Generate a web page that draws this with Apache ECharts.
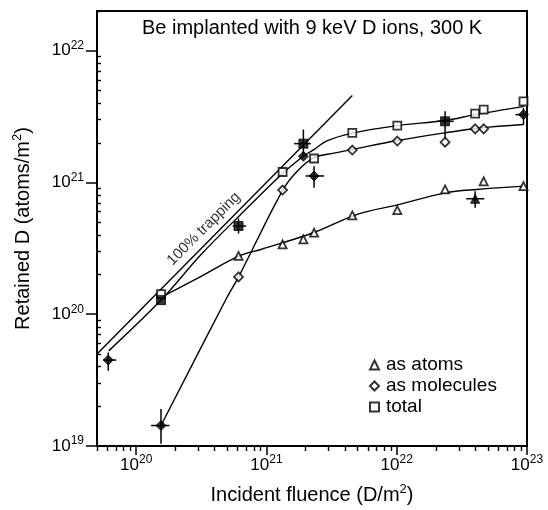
<!DOCTYPE html>
<html>
<head>
<meta charset="utf-8">
<script src="https://cdn.jsdelivr.net/npm/echarts@6/dist/echarts.min.js"></script>
<style>
  html, body { margin: 0; padding: 0; background: #fff; }
  #chart { width: 548px; height: 510px; }
</style>
</head>
<body>
<div id="chart"></div>
<script>
// fluence / retained D (D/m^2)
const atomsX = [6.1e20, 1.33e21, 1.92e21, 2.32e21, 4.56e21, 1.01e22, 2.35e22, 4.65e22, 9.4e22];
const atomsY = [2.77e20, 3.39e20, 3.70e20, 4.16e20, 5.62e20, 6.17e20, 8.85e20, 1.02e21, 9.38e20];
const molX = [6.1e20, 1.33e21, 4.56e21, 1.01e22, 2.35e22, 4.0e22, 4.65e22];
const molY = [1.92e20, 8.75e20, 1.76e21, 2.06e21, 2.02e21, 2.55e21, 2.55e21];
const totX = [1.55e20, 1.33e21, 2.32e21, 4.56e21, 1.01e22, 4.0e22, 4.65e22, 9.4e22];
const totY = [1.42e20, 1.20e21, 1.52e21, 2.38e21, 2.70e21, 3.33e21, 3.57e21, 4.13e21];

// filled symbols
const fillSqX = [1.55e20, 6.1e20, 1.92e21, 2.35e22];
const fillSqY = [1.28e20, 4.67e20, 1.97e21, 2.91e21];
const fillDiX = [6.1e19, 1.55e20, 1.92e21, 2.32e21, 9.4e22];
const fillDiY = [4.49e19, 1.43e19, 1.58e21, 1.12e21, 3.27e21];
const fillTriX = [4.0e22];
const fillTriY = [7.52e20];

// error bars: [x, y, xLow, xHigh, yLow, yHigh]
const errBars = [
  [6.1e19, 4.49e19, 5.56e19, 7.03e19, 3.72e19, 5.13e19],
  [1.55e20, 1.43e19, 1.30e20, 1.80e20, 1.04e19, 1.91e19],
  [6.1e20, 4.67e20, 5.50e20, 6.97e20, 4.09e20, 5.32e20],
  [1.92e21, 1.97e21, 1.63e21, 2.19e21, 1.58e21, 2.52e21],
  [2.32e21, 1.12e21, 2.00e21, 2.77e21, 9.12e20, 1.33e21],
  [2.35e22, 2.91e21, 2.04e22, 2.74e22, 2.12e21, 3.47e21],
  [4.0e22, 7.52e20, 3.42e22, 4.70e22, 6.43e20, 8.59e20],
  [9.4e22, 3.27e21, 8.15e22, 1.0e23, 2.75e21, 3.68e21]
];

// fitted curves
const trapX = [5e19, 4.56e21];
const trapY = [5e19, 4.56e21];
const totFitX = [6.15e19, 1.55e20, 3.16e20, 6.31e20, 1.33e21, 1.92e21, 2.32e21, 2.88e21, 4.56e21, 1.01e22, 2.34e22, 3.98e22, 9.55e22];
const totFitY = [5.27e19, 1.28e20, 2.85e20, 5.69e20, 1.17e21, 1.58e21, 1.78e21, 2.06e21, 2.37e21, 2.70e21, 2.95e21, 3.27e21, 3.78e21];
const molFitX = [1.55e20, 4.89e20, 6.11e20, 1.33e21, 1.73e21, 2.32e21, 3.30e21, 4.56e21, 1.01e22, 2.33e22, 4.39e22, 9.4e22];
const molFitY = [1.43e19, 1.30e20, 1.92e20, 8.71e20, 1.22e21, 1.54e21, 1.67e21, 1.78e21, 2.08e21, 2.38e21, 2.59e21, 2.75e21];
const atFitX = [1.55e20, 3.15e20, 6.18e20, 9.06e20, 2.32e21, 4.98e21, 1.01e22, 2.37e22, 4.13e22, 9.4e22];
const atFitY = [1.34e20, 1.94e20, 2.77e20, 3.10e20, 4.17e20, 5.73e20, 6.75e20, 8.34e20, 8.85e20, 9.38e20];

const xMajor = [20, 21, 22, 23];
const yMajor = [19, 20, 21, 22];

const L = Math.log10;
const X_MIN = L(5e19), X_MAX = 23;
const Y_MIN = 19, Y_MAX = L(2e22);

function minorTicks(lo, hi) {
  const out = [];
  for (let n = Math.floor(lo); n < hi; n++) {
    for (let k = 2; k <= 9; k++) {
      const v = n + L(k);
      if (v >= lo && v <= hi) out.push(v);
    }
  }
  return out;
}

const pts = (xs, ys) => xs.map((x, i) => [L(x), L(ys[i])]);

const FONT = '"Liberation Sans", Arial, sans-serif';
const supRich = {
  b: { fontSize: 17, color: '#000', fontFamily: FONT },
  s: { fontSize: 12, color: '#000', fontFamily: FONT, padding: [0, 0, 10, 0] }
};
const powLabel = v => '{b|10}{s|' + Math.round(v) + '}';
const nameRich = {
  a: { fontSize: 20, color: '#000', fontFamily: FONT },
  s: { fontSize: 13, color: '#000', fontFamily: FONT, padding: [0, 0, 11, 0] }
};

const lineBase = { type: 'line', symbol: 'none', silent: true,
  lineStyle: { color: '#000', width: 1.4 }, z: 2 };
const open = { color: '#fff', borderColor: '#000', borderWidth: 1.8 };
const filled = { color: '#000', borderColor: '#000', borderWidth: 1 };

const chart = echarts.init(document.getElementById('chart'));

const option = {
  animation: false,
  textStyle: { fontFamily: FONT },
  title: {
    text: 'Be implanted with 9 keV D ions, 300 K',
    left: 142, top: 18, padding: 0,
    textStyle: { fontSize: 20, fontWeight: 'normal', color: '#000', fontFamily: FONT }
  },
  grid: {
    left: 97, right: 21, top: 11, bottom: 63,
    show: true, borderColor: '#000', borderWidth: 2, backgroundColor: 'transparent'
  },
  legend: {
    data: ['as atoms', 'as molecules', 'total'],
    orient: 'vertical', left: 369, top: 355, padding: 0,
    itemWidth: 9, itemHeight: 9, itemGap: 1,
    textStyle: { fontSize: 19, lineHeight: 20, color: '#000', fontFamily: FONT, padding: [0, 0, 0, 2] }
  },
  xAxis: [
    {
      type: 'value', min: X_MIN, max: X_MAX, position: 'bottom',
      axisLine: { show: true, lineStyle: { color: '#000', width: 2 } },
      axisTick: { show: true, customValues: xMajor, length: 9, lineStyle: { color: '#000', width: 1.5 } },
      axisLabel: { customValues: xMajor, formatter: powLabel, rich: supRich, margin: 8 },
      splitLine: { show: false },
      name: '{a|Incident fluence (D/m}{s|2}{a|)}',
      nameLocation: 'middle', nameGap: 37,
      nameTextStyle: { rich: nameRich }
    },
    {
      type: 'value', min: X_MIN, max: X_MAX, position: 'bottom',
      axisLine: { show: false },
      axisTick: { show: true, customValues: minorTicks(X_MIN, X_MAX), length: 5, lineStyle: { color: '#000', width: 1.4 } },
      axisLabel: { show: false },
      splitLine: { show: false }
    }
  ],
  yAxis: [
    {
      type: 'value', min: Y_MIN, max: Y_MAX, position: 'left',
      axisLine: { show: true, lineStyle: { color: '#000', width: 2 } },
      axisTick: { show: true, customValues: yMajor, length: 11, lineStyle: { color: '#000', width: 1.5 } },
      axisLabel: { customValues: yMajor, formatter: powLabel, rich: supRich, margin: 13 },
      splitLine: { show: false },
      name: '{a|Retained D (atoms/m}{s|2}{a|)}',
      nameLocation: 'middle', nameGap: 62,
      nameTextStyle: { rich: nameRich }
    },
    {
      type: 'value', min: Y_MIN, max: Y_MAX, position: 'left',
      axisLine: { show: false },
      axisTick: { show: true, inside: true, customValues: minorTicks(Y_MIN, Y_MAX), length: 4, lineStyle: { color: '#000', width: 1.4 } },
      axisLabel: { show: false },
      splitLine: { show: false }
    }
  ],
  series: [
    Object.assign({}, lineBase, { name: 'trap', data: pts(trapX, trapY) }),
    Object.assign({}, lineBase, { name: 'totFit', smooth: 0.35, data: pts(totFitX, totFitY) }),
    Object.assign({}, lineBase, { name: 'molFit', smooth: 0.35, data: pts(molFitX, molFitY) }),
    Object.assign({}, lineBase, { name: 'atFit', smooth: 0.35, data: pts(atFitX, atFitY) }),
    {
      type: 'custom', name: 'err', silent: true, z: 3,
      data: errBars.map(e => e.map(L)),
      renderItem: function (params, api) {
        const c = api.coord([api.value(0), api.value(1)]);
        const xl = api.coord([api.value(2), api.value(1)]);
        const xh = api.coord([api.value(3), api.value(1)]);
        const yl = api.coord([api.value(0), api.value(4)]);
        const yh = api.coord([api.value(0), api.value(5)]);
        const st = { stroke: '#000', lineWidth: 1.5 };
        return { type: 'group', children: [
          { type: 'line', shape: { x1: xl[0], y1: c[1], x2: xh[0], y2: c[1] }, style: st },
          { type: 'line', shape: { x1: c[0], y1: yl[1], x2: c[0], y2: yh[1] }, style: st }
        ] };
      }
    },
    { type: 'scatter', name: 'as atoms', symbol: 'triangle', symbolSize: 8, z: 4,
      itemStyle: open, data: pts(atomsX, atomsY) },
    { type: 'scatter', name: 'as molecules', symbol: 'diamond', symbolSize: 9, z: 4,
      itemStyle: open, data: pts(molX, molY) },
    { type: 'scatter', name: 'total', symbol: 'rect', symbolSize: 8, z: 4,
      itemStyle: open, data: pts(totX, totY) },
    { type: 'scatter', name: 'fillSq', symbol: 'rect', symbolSize: 9, z: 5,
      itemStyle: filled, data: pts(fillSqX, fillSqY) },
    { type: 'scatter', name: 'fillDi', symbol: 'diamond', symbolSize: 10, z: 5,
      itemStyle: filled, data: pts(fillDiX, fillDiY) },
    { type: 'scatter', name: 'fillTri', symbol: 'triangle', symbolSize: 9, z: 5,
      itemStyle: filled, data: pts(fillTriX, fillTriY) },
    { type: 'scatter', name: 'trapLabel', symbolSize: 0, silent: true, z: 6,
      data: pts([3.3e20], [4.45e20]),
      label: { show: true, position: 'inside', rotate: 45, formatter: '100% trapping',
        fontSize: 15, color: '#000', fontFamily: FONT } }
  ]
};

chart.setOption(option);
</script>
</body>
</html>
